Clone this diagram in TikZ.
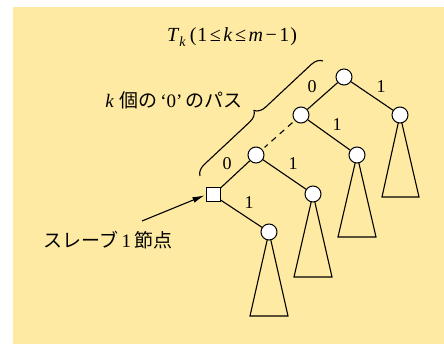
\documentclass[tikz,border=0pt]{standalone}
\usepackage{fontspec}
\setmainfont{Liberation Serif}
\newfontfamily\jpfont{Noto Sans CJK JP}
\usetikzlibrary{arrows.meta,decorations.pathreplacing,backgrounds}
\definecolor{bgyellow}{RGB}{254,234,163}
\newcommand{\tgap}{\hspace{2.5pt}}
\begin{document}
\begin{tikzpicture}[x=1pt,y=-1pt,
  txt/.style={inner sep=0pt,font=\fontsize{18}{21}\selectfont},
  ttl/.style={inner sep=0pt,font=\fontsize{20}{24}\selectfont},
  jtxt/.style={inner sep=0pt,font=\fontsize{19}{22}\selectfont},
  rnode/.style={circle,draw,fill=white,line width=1pt,minimum size=16pt,inner sep=0pt},
  snode/.style={rectangle,draw,fill=white,line width=1pt,minimum size=14pt,inner sep=0pt},
  edge/.style={line width=1.1pt},
  tri/.style={line width=1.1pt,line join=miter}
]
\useasboundingbox (0,0) rectangle (444,344);
% nodes
\node[rnode] (n1) at (344,77) {};
\node[rnode] (r1) at (400,115) {};
\node[rnode] (n2) at (301,115) {};
\node[rnode] (r2) at (357,155) {};
\node[rnode] (n3) at (256,155) {};
\node[rnode] (r3) at (313,194) {};
\node[snode] (sq) at (213,195) {};
\node[rnode] (r4) at (269,232) {};
% triangle base corners
\coordinate (b1l) at (382,197); \coordinate (b1r) at (419,197);
\coordinate (b2l) at (338,237); \coordinate (b2r) at (376,237);
\coordinate (b3l) at (294,277); \coordinate (b3r) at (332,277);
\coordinate (b4l) at (250,316); \coordinate (b4r) at (288,316);
\begin{pgfonlayer}{background}
\fill[bgyellow] (13,7) rectangle (444,344);
\draw[tri] (r1.center) -- (b1l) -- (b1r) -- cycle;
\draw[tri] (r2.center) -- (b2l) -- (b2r) -- cycle;
\draw[tri] (r3.center) -- (b3l) -- (b3r) -- cycle;
\draw[tri] (r4.center) -- (b4l) -- (b4r) -- cycle;
\end{pgfonlayer}
% edges
\draw[edge] (n1) -- (n2);
\draw[edge] (n1) -- (r1);
\draw[edge] (n2) -- (r2);
\draw[edge,dashed,dash pattern=on 6pt off 5pt,shorten <=3pt,shorten >=3pt] (n2) -- (n3);
\draw[edge] (n3) -- (r3);
\draw[edge] (n3) -- (sq);
\draw[edge] (sq) -- (r4);
% edge labels
\node[txt] (l1) at (312,87) {0};
\node[txt] (l2) at (381,87) {1};
\node[txt] (l3) at (337,125) {1};
\node[txt] (l4) at (227,164) {0};
\node[txt] (l5) at (293,164) {1};
\node[txt] (l6) at (249,203) {1};
% brace
\coordinate (brA) at (200,176);
\coordinate (brB) at (323,61);
\draw[line width=1.1pt,decorate,decoration={brace,amplitude=11pt}] (brA) -- (brB);
% texts
\node[ttl] (title) at (232,37) {\textit{T}\raisebox{-5pt}{\fontsize{14}{14}\selectfont\textit{k}}\hspace{4pt}(\hspace{1pt}1\tgap≤\tgap\textit{k}\tgap≤\tgap\textit{m}\tgap−\tgap1\hspace{1pt})};
\node[jtxt] (kpath) at (174,100) {\textit{k}\hspace{5pt}{\jpfont 個の}\,‘0’\,{\jpfont のパス}};
\node[jtxt] (slave) at (108,240) {{\jpfont スレーブ}\hspace{3pt}1\hspace{3pt}{\jpfont 節点}};
\coordinate (arS) at (142,221);
\draw[line width=1.1pt,-{Latex[length=12pt,width=6pt]},shorten >=1pt] (arS) -- (sq.west);
\end{tikzpicture}
\end{document}
